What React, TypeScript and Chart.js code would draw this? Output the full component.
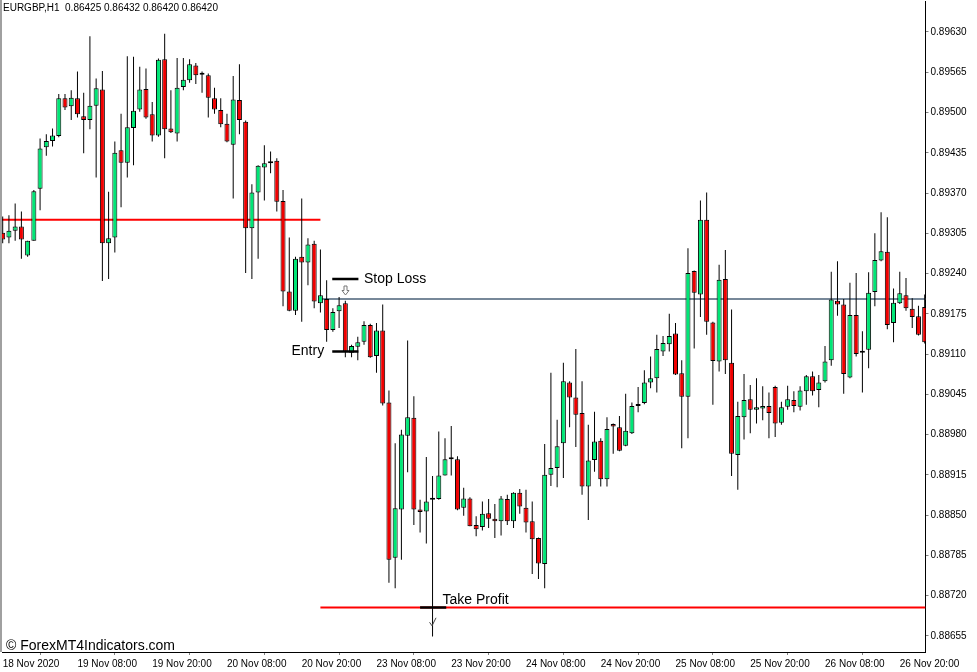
import React, { useEffect, useRef } from "react";
import { Chart, registerables } from "chart.js";

Chart.register(...registerables);

// ---- Candle data (EURGBP H1) ----
const opens = [
  0.89306, 0.89298, 0.89309, 0.89316, 0.89269, 0.89293, 0.89377, 0.89444, 0.89454, 0.89462,
  0.89523, 0.8951, 0.89523, 0.89494, 0.89488, 0.89511, 0.89537, 0.89289, 0.89298, 0.89439,
  0.89419, 0.89475, 0.89505, 0.89538, 0.89497, 0.89463, 0.89586, 0.89474, 0.89466, 0.89541,
  0.89552, 0.89576, 0.89561, 0.8956, 0.89523, 0.89504, 0.89482, 0.89448, 0.8952, 0.89485,
  0.89313, 0.89371, 0.89411, 0.89418, 0.89422, 0.89357, 0.89211, 0.8918, 0.89267, 0.89258,
  0.89288, 0.89192, 0.89199, 0.89149, 0.89179, 0.89192, 0.89112, 0.89122, 0.8913, 0.89157,
  0.89107, 0.89148, 0.89032, 0.88781, 0.88859, 0.88978, 0.89007, 0.88859, 0.88856, 0.88875,
  0.88876, 0.88914, 0.8894, 0.8894, 0.88862, 0.88877, 0.88834, 0.88831, 0.88853, 0.88844,
  0.8884, 0.88876, 0.8884, 0.88886, 0.88862, 0.8884, 0.88813, 0.88771, 0.88915, 0.88926,
  0.88966, 0.89064, 0.8904, 0.89015, 0.88896, 0.88939, 0.8897, 0.88908, 0.88997, 0.88992,
  0.88962, 0.88982, 0.89026, 0.89031, 0.89064, 0.89071, 0.89114, 0.89126, 0.89143, 0.89079,
  0.89041, 0.89244, 0.89206, 0.89327, 0.89161, 0.89098, 0.89231, 0.89096, 0.88947, 0.89008,
  0.89037, 0.8902, 0.89022, 0.89026, 0.89057, 0.88999, 0.89025, 0.89036, 0.89025, 0.8905,
  0.89074, 0.89052, 0.89066, 0.891, 0.89196, 0.8919, 0.89072, 0.89173, 0.89114, 0.89117,
  0.8921, 0.89261, 0.89275, 0.8916, 0.89192, 0.89205, 0.89183, 0.89171, 0.89186,
];
const highs = [
  0.89332, 0.89334, 0.89353, 0.8934, 0.89293, 0.89375, 0.89458, 0.89465, 0.89474, 0.8953,
  0.8953, 0.89536, 0.89566, 0.89532, 0.89623, 0.89555, 0.89567, 0.89372, 0.89453, 0.89498,
  0.89591, 0.8959, 0.89574, 0.89571, 0.89517, 0.89587, 0.89627, 0.89536, 0.89588, 0.89588,
  0.89586, 0.8958, 0.89566, 0.89563, 0.8954, 0.89523, 0.89498, 0.89559, 0.89578, 0.89487,
  0.89384, 0.89415, 0.89447, 0.89437, 0.89426, 0.89375, 0.89298, 0.89267, 0.89361, 0.89297,
  0.89293, 0.89279, 0.89229, 0.89184, 0.89202, 0.89196, 0.89125, 0.89138, 0.89163, 0.89159,
  0.8916, 0.8919, 0.89051, 0.88966, 0.88988, 0.89132, 0.89042, 0.88875, 0.88944, 0.88913,
  0.88985, 0.88974, 0.88994, 0.88945, 0.88894, 0.88879, 0.88848, 0.88872, 0.88876, 0.88868,
  0.88881, 0.88883, 0.88887, 0.88892, 0.88891, 0.88872, 0.88814, 0.88965, 0.8908, 0.89004,
  0.89096, 0.89066, 0.89118, 0.89066, 0.88996, 0.89017, 0.88974, 0.89008, 0.88998, 0.8901,
  0.89046, 0.89032, 0.89057, 0.89084, 0.89106, 0.89141, 0.89139, 0.89175, 0.8916, 0.891,
  0.89281, 0.89245, 0.89358, 0.89371, 0.89162, 0.89254, 0.89278, 0.89182, 0.89033, 0.89078,
  0.8906, 0.89071, 0.89058, 0.89048, 0.89059, 0.89033, 0.89059, 0.8905, 0.89058, 0.89076,
  0.89082, 0.89076, 0.89123, 0.89243, 0.8926, 0.89199, 0.89225, 0.89241, 0.89147, 0.89242,
  0.89305, 0.89339, 0.89331, 0.89216, 0.89243, 0.89233, 0.892, 0.89188, 0.89206,
];
const lows = [
  0.89289, 0.89289, 0.89293, 0.89264, 0.89267, 0.89293, 0.89342, 0.8943, 0.89445, 0.8946,
  0.89504, 0.89488, 0.89492, 0.89434, 0.89473, 0.89395, 0.89228, 0.89231, 0.89274, 0.89347,
  0.89395, 0.89415, 0.89501, 0.8949, 0.89453, 0.89461, 0.89426, 0.89467, 0.89453, 0.89536,
  0.89548, 0.89546, 0.89532, 0.89492, 0.89498, 0.89476, 0.89452, 0.89361, 0.89465, 0.89241,
  0.89231, 0.89264, 0.89358, 0.89402, 0.8934, 0.89187, 0.89179, 0.89173, 0.89162, 0.89221,
  0.89184, 0.89177, 0.8913, 0.89146, 0.89152, 0.89105, 0.89105, 0.891, 0.89125, 0.89104,
  0.8908, 0.89027, 0.88741, 0.88732, 0.88778, 0.88919, 0.88834, 0.88822, 0.88804, 0.88654,
  0.88875, 0.88914, 0.88914, 0.88858, 0.88849, 0.88832, 0.88816, 0.88825, 0.88829, 0.88813,
  0.88817, 0.88834, 0.88829, 0.88852, 0.88822, 0.88755, 0.88747, 0.88732, 0.88897, 0.88895,
  0.8891, 0.88992, 0.8896, 0.88883, 0.88842, 0.8892, 0.88896, 0.88896, 0.88949, 0.88953,
  0.88961, 0.88981, 0.89016, 0.89029, 0.89055, 0.89048, 0.89107, 0.89114, 0.89076, 0.88958,
  0.88974, 0.89119, 0.8917, 0.89141, 0.89028, 0.89082, 0.89078, 0.88913, 0.88891, 0.88972,
  0.88982, 0.88998, 0.89003, 0.88974, 0.88976, 0.88996, 0.8902, 0.89016, 0.89019, 0.89028,
  0.89043, 0.89024, 0.89064, 0.89091, 0.89172, 0.89046, 0.89071, 0.89106, 0.89048, 0.89087,
  0.89187, 0.8926, 0.8915, 0.89129, 0.89191, 0.8918, 0.89152, 0.8914, 0.89127,
];
const closes = [
  0.89295, 0.89309, 0.89316, 0.89295, 0.89293, 0.89373, 0.89442, 0.89454, 0.89463, 0.89523,
  0.89508, 0.89524, 0.89497, 0.89488, 0.89511, 0.89539, 0.89289, 0.89297, 0.89435, 0.89419,
  0.89476, 0.89503, 0.89537, 0.89492, 0.89463, 0.89585, 0.89473, 0.89468, 0.8954, 0.89553,
  0.89578, 0.8956, 0.89561, 0.89524, 0.89505, 0.89481, 0.89453, 0.89521, 0.89488, 0.89313,
  0.89371, 0.89414, 0.89418, 0.89421, 0.89356, 0.89211, 0.8918, 0.89264, 0.89258, 0.89287,
  0.89195, 0.89205, 0.89149, 0.89178, 0.89189, 0.89114, 0.89123, 0.89129, 0.89157, 0.89105,
  0.89148, 0.8903, 0.88778, 0.88861, 0.8898, 0.89008, 0.88859, 0.88855, 0.88872, 0.88877,
  0.88914, 0.8894, 0.88941, 0.88859, 0.88877, 0.88832, 0.88827, 0.88852, 0.88844, 0.8884,
  0.88877, 0.8884, 0.88886, 0.88864, 0.88838, 0.88811, 0.88772, 0.88915, 0.88926, 0.88961,
  0.89066, 0.8904, 0.89012, 0.88896, 0.88938, 0.88969, 0.88908, 0.88989, 0.88993, 0.88954,
  0.88986, 0.89026, 0.89029, 0.89064, 0.89071, 0.89118, 0.89128, 0.89139, 0.89077, 0.89041,
  0.89241, 0.89209, 0.89327, 0.89162, 0.89099, 0.8923, 0.891, 0.88949, 0.8901, 0.89036,
  0.8902, 0.89024, 0.89026, 0.89015, 0.88998, 0.89024, 0.89037, 0.89026, 0.89051, 0.89074,
  0.8905, 0.89064, 0.89098, 0.89198, 0.8919, 0.89078, 0.89173, 0.8911, 0.89112, 0.89209,
  0.89262, 0.89276, 0.89157, 0.89193, 0.89208, 0.89184, 0.8917, 0.89141, 0.89129,
];

// ---- Axes ----
const xTickBars = [0, 12, 24, 36, 48, 60, 72, 84, 96, 108, 120, 132, 144];
const xTickLabels = [
  "18 Nov 2020", "19 Nov 08:00", "19 Nov 20:00", "20 Nov 08:00", "20 Nov 20:00",
  "23 Nov 08:00", "23 Nov 20:00", "24 Nov 08:00", "24 Nov 20:00", "25 Nov 08:00",
  "25 Nov 20:00", "26 Nov 08:00", "26 Nov 20:00",
];
const yTickValues = [
  0.88655, 0.8872, 0.88785, 0.8885, 0.88915, 0.8898, 0.89045, 0.8911,
  0.89175, 0.8924, 0.89305, 0.8937, 0.89435, 0.895, 0.89565, 0.8963,
];
const xRange = [-0.112, 148.13];
const yRange = [0.88629, 0.8968];

// ---- Levels & annotations ----
const prevLevelPrice = 0.89327; // red line, left part
const prevLevelBars = [-0.112, 51];
const signalLevelPrice = 0.89199; // grey line
const takeProfitPrice = 0.88701; // red line, right part
const rightLevelBars = [51, 148.13];
const stopLossPrice = 0.89231;
const entryPrice = 0.89114;
const markBars = [52.9, 57.1];
const tpMarkBars = [67.0, 71.2];
const stopLossTextBar = 58.0;
const entryTextBar = 51.6;
const tpTextBar = 70.6;
const arrowBar = 54.9;
const arrowPrice = 0.89214;
const checkBar = 69;
const checkPrice = 0.88677;

const headerText = "EURGBP,H1  0.86425 0.86432 0.86420 0.86420";
const watermarkText = "\u00A9 ForexMT4Indicators.com";

const GREEN = "rgb(0, 230, 118)";
const RED = "rgb(240, 0, 0)";
const FONT = '"Liberation Sans", Arial, sans-serif';

const overlayPlugin = {
  id: "overlay",
  afterDatasetsDraw(chart: any) {
    const { ctx } = chart;
    const x = chart.scales.x;
    const y = chart.scales.y;
    ctx.save();
    // Texts
    ctx.fillStyle = "#000";
    ctx.font = `14px ${FONT}`;
    ctx.textBaseline = "middle";
    ctx.textAlign = "left";
    ctx.fillText("Stop Loss", x.getPixelForValue(stopLossTextBar), y.getPixelForValue(stopLossPrice));
    ctx.textAlign = "right";
    ctx.fillText("Entry", x.getPixelForValue(entryTextBar), y.getPixelForValue(entryPrice));
    ctx.textAlign = "left";
    ctx.textBaseline = "alphabetic";
    ctx.fillText("Take Profit", x.getPixelForValue(tpTextBar), y.getPixelForValue(takeProfitPrice) - 3);

    // Sell arrow (hollow down arrow)
    const ax = Math.round(x.getPixelForValue(arrowBar)) + 0.5;
    const ay = Math.round(y.getPixelForValue(arrowPrice)) + 0.5;
    ctx.beginPath();
    ctx.moveTo(ax - 1.5, ay - 4.5);
    ctx.lineTo(ax + 1.5, ay - 4.5);
    ctx.lineTo(ax + 1.5, ay);
    ctx.lineTo(ax + 3.5, ay);
    ctx.lineTo(ax, ay + 4.5);
    ctx.lineTo(ax - 3.5, ay);
    ctx.lineTo(ax - 1.5, ay);
    ctx.closePath();
    ctx.fillStyle = "#fff";
    ctx.fill();
    ctx.strokeStyle = "#777";
    ctx.lineWidth = 1;
    ctx.stroke();

    // Check mark
    const cx = x.getPixelForValue(checkBar);
    const cy = y.getPixelForValue(checkPrice);
    ctx.beginPath();
    ctx.moveTo(cx - 3, cy);
    ctx.lineTo(cx - 0.5, cy + 3.5);
    ctx.lineTo(cx + 3.5, cy - 4.5);
    ctx.strokeStyle = "#444";
    ctx.lineWidth = 1;
    ctx.stroke();
    ctx.restore();
  },
  afterDraw(chart: any) {
    const { ctx, chartArea } = chart;
    ctx.save();
    // left frame
    ctx.fillStyle = "#a0a0a0";
    ctx.fillRect(0, 0, 2, chartArea.bottom);
    // header
    ctx.fillStyle = "#000";
    ctx.font = `10px ${FONT}`;
    ctx.textAlign = "left";
    ctx.textBaseline = "alphabetic";
    ctx.fillText(headerText, 3, 11);
    // watermark
    ctx.font = `14px ${FONT}`;
    ctx.fillText(watermarkText, 6, chartArea.bottom - 2.5);
    ctx.restore();
  },
};

export default function App() {
  const ref = useRef<HTMLCanvasElement | null>(null);

  useEffect(() => {
    if (!ref.current) return;
    const idx = opens.map((_, i) => i);
    const colors = idx.map((i) => (closes[i] >= opens[i] ? GREEN : RED));

    const hLine = (bars: number[], price: number) => bars.map((b) => ({ x: b, y: price }));

    const chart = new Chart(ref.current, {
      type: "bar",
      data: {
        datasets: [
          {
            type: "line",
            label: "Previous level",
            data: hLine(prevLevelBars, prevLevelPrice),
            borderColor: "#ff0000",
            borderWidth: 2,
            pointRadius: 0,
            order: 10,
          } as any,
          {
            type: "line",
            label: "Signal level",
            data: hLine(rightLevelBars, signalLevelPrice),
            borderColor: "#778899",
            borderWidth: 2,
            pointRadius: 0,
            order: 10,
          } as any,
          {
            type: "line",
            label: "Take profit level",
            data: hLine(rightLevelBars, takeProfitPrice),
            borderColor: "#ff0000",
            borderWidth: 2,
            pointRadius: 0,
            order: 10,
          } as any,
          {
            type: "bar",
            label: "Wicks",
            data: idx.map((i) => ({ x: i, y: [lows[i], highs[i]] })),
            backgroundColor: "#000",
            borderWidth: 0,
            barThickness: 1,
            grouped: false,
            inflateAmount: 0,
            order: 5,
          } as any,
          {
            type: "bar",
            label: "Bodies",
            data: idx.map((i) => ({ x: i, y: [opens[i], closes[i]] })),
            backgroundColor: colors,
            borderColor: "#000",
            borderWidth: 1,
            borderSkipped: false,
            barThickness: 5,
            grouped: false,
            minBarLength: 2,
            inflateAmount: 0,
            order: 4,
          } as any,
          {
            type: "line",
            label: "Stop Loss mark",
            data: hLine(markBars, stopLossPrice),
            borderColor: "#000",
            borderWidth: 2.5,
            pointRadius: 0,
            order: 1,
          } as any,
          {
            type: "line",
            label: "Entry mark",
            data: hLine(markBars, entryPrice),
            borderColor: "#000",
            borderWidth: 2.5,
            pointRadius: 0,
            order: 1,
          } as any,
          {
            type: "line",
            label: "Take Profit mark",
            data: hLine(tpMarkBars, takeProfitPrice),
            borderColor: "#000",
            borderWidth: 2.5,
            pointRadius: 0,
            order: 1,
          } as any,
        ],
      },
      options: {
        responsive: false,
        animation: false,
        devicePixelRatio: 1,
        layout: { padding: { left: 2, top: 1, right: 0, bottom: 0 } },
        plugins: {
          legend: { display: false },
          tooltip: { enabled: false },
        },
        scales: {
          x: {
            type: "linear",
            min: xRange[0],
            max: xRange[1],
            offset: false,
            grid: { display: true, drawOnChartArea: false, drawTicks: true, tickLength: 3, tickColor: "#808080" },
            border: { display: true, color: "#000", width: 1 },
            ticks: {
              autoSkip: false,
              maxRotation: 0,
              minRotation: 0,
              align: "start",
              padding: 3,
              color: "#000",
              font: { family: FONT, size: 10 },
              callback: (_v: any, i: number) => xTickLabels[i],
            },
            afterBuildTicks: (s: any) => {
              s.ticks = xTickBars.map((v) => ({ value: v }));
            },
            afterFit: (s: any) => {
              s.height = 20;
              s.paddingLeft = 0;
              s.paddingRight = 0;
            },
          },
          y: {
            type: "linear",
            position: "right",
            min: yRange[0],
            max: yRange[1],
            grid: { display: true, drawOnChartArea: false, drawTicks: true, tickLength: 3, tickColor: "#808080" },
            border: { display: true, color: "#000", width: 1 },
            ticks: {
              padding: 2,
              color: "#000",
              font: { family: FONT, size: 10 },
              callback: (v: any) => Number(v).toFixed(5),
            },
            afterBuildTicks: (s: any) => {
              s.ticks = yTickValues.map((v) => ({ value: v }));
            },
            afterFit: (s: any) => {
              s.width = 51.5;
              s.paddingTop = 0;
              s.paddingBottom = 0;
            },
          },
        },
      } as any,
      plugins: [overlayPlugin],
    });
    return () => chart.destroy();
  }, []);

  return (
    <div style={{ position: "absolute", left: 0, top: 0, width: 977, height: 672, background: "#fff" }}>
      <canvas ref={ref} width={977} height={672} style={{ display: "block" }} />
    </div>
  );
}
